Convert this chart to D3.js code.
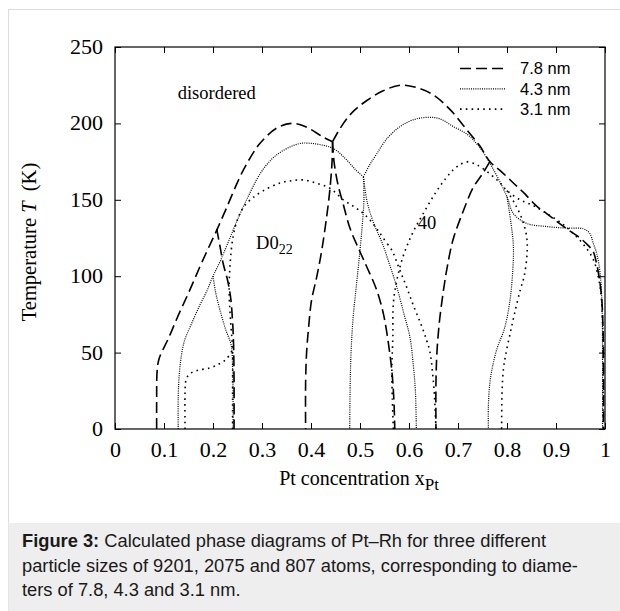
<!DOCTYPE html>
<html>
<head>
<meta charset="utf-8">
<script src="https://cdn.jsdelivr.net/npm/d3@7"></script>
<style>
  html, body { margin: 0; padding: 0; background: #fff; }
  svg { display: block; }
</style>
</head>
<body>
<svg id="chart" width="620" height="611"></svg>
<script>
// ---- Phase boundaries: [x_Pt, T (K)] ----
// 7.8 nm particle (9201 atoms)
const d78_leftD022   = [[0.085,0],[0.085,20],[0.086,38],[0.09,46],[0.11,60],[0.13,75],[0.15,89],[0.173,106],[0.19,118],[0.2075,130],[0.228,145],[0.255,165],[0.275,177],[0.296,187],[0.33,197],[0.36,200],[0.38,199],[0.40,196],[0.425,191],[0.444,188]];
const d78_lowD022    = [[0.2075,131],[0.214,120],[0.221,108],[0.23,97],[0.236,86],[0.24,70],[0.242,55],[0.243,30],[0.243,0]];
const d78_rightD022  = [[0.444,188],[0.447,175],[0.455,160],[0.465,148],[0.48,131],[0.5,116],[0.514,106],[0.534,91],[0.548,75],[0.558,56],[0.565,38],[0.569,20],[0.571,0]];
const d78_left40     = [[0.444,188],[0.443,175],[0.438,155],[0.432,139],[0.422,117],[0.412,100],[0.401,84],[0.395,66],[0.391,50],[0.389,30],[0.389,0]];
const d78_top40      = [[0.444,188],[0.458,196],[0.473,203],[0.49,209],[0.514,215],[0.545,221],[0.582,225],[0.615,223.5],[0.65,218.6],[0.684,209],[0.715,197],[0.745,185],[0.765,175],[0.79,168],[0.813,161],[0.833,155],[0.86,146],[0.881,141],[0.901,136],[0.922,131],[0.945,126],[0.963,121],[0.976,116],[0.983,108],[0.99,95],[0.994,82],[0.996,65],[0.997,40],[0.997,0]];
const d78_right40    = [[0.765,175],[0.75,167],[0.731,158],[0.71,142],[0.69,124],[0.678,106],[0.67,90],[0.662,70],[0.657,50],[0.655,30],[0.655,0]];

// 4.3 nm particle (2075 atoms)
const d43_leftD022   = [[0.129,0],[0.129,20],[0.131,35],[0.135,47],[0.142,58],[0.155,68],[0.173,81],[0.187,90],[0.2,100],[0.215,110],[0.232,123],[0.25,137],[0.27,151],[0.296,167],[0.318,176],[0.337,181],[0.36,185],[0.38,187],[0.398,187],[0.42,186],[0.446,183.5],[0.47,177],[0.49,170],[0.507,165]];
const d43_lowD022    = [[0.2,100],[0.205,90],[0.214,78],[0.226,65],[0.237,55],[0.24,40],[0.241,20],[0.241,0]];
const d43_rightD022  = [[0.507,165],[0.515,148],[0.53,133],[0.545,122],[0.56,108],[0.575,93],[0.59,75],[0.602,60],[0.609,41],[0.613,25],[0.615,0]];
const d43_left40     = [[0.507,165],[0.508,150],[0.505,135],[0.5,117],[0.493,95],[0.486,73],[0.482,52],[0.48,30],[0.479,0]];
const d43_top40      = [[0.507,165],[0.52,173],[0.534,180],[0.555,190],[0.582,198],[0.61,202.5],[0.64,204],[0.663,203],[0.69,198],[0.718,193],[0.745,184],[0.772,170],[0.8,152],[0.813,141],[0.84,134.6],[0.881,132.5],[0.92,131.5],[0.956,131],[0.969,128],[0.976,121.5],[0.983,115],[0.99,102],[0.994,80],[0.995,50],[0.995,0]];
const d43_right40    = [[0.8,152],[0.808,135],[0.813,120],[0.812,105],[0.806,84],[0.795,66],[0.779,52],[0.77,40],[0.765,30],[0.762,15],[0.762,0]];

// 3.1 nm particle (807 atoms)
const d31_leftD022   = [[0.143,0],[0.143,25],[0.145,32],[0.152,36],[0.17,38.5],[0.194,40],[0.212,42.5],[0.228,46],[0.24,52]];
const d31_domeD022   = [[0.24,0],[0.24,30],[0.24,52],[0.236,70],[0.233,90],[0.235,108],[0.241,126],[0.25,137],[0.262,145],[0.28,151],[0.303,156],[0.337,161],[0.36,162.5],[0.384,163],[0.41,161],[0.439,157.5],[0.466,150],[0.49,145],[0.507,141],[0.525,135],[0.541,128],[0.556,121]];
const d31_rightD022  = [[0.556,121],[0.565,117],[0.58,105],[0.595,93],[0.61,80],[0.625,68],[0.636,58],[0.643,50],[0.65,30],[0.653,15],[0.655,0]];
const d31_dome40     = [[0.568,0],[0.566,20],[0.565,39],[0.567,60],[0.568,82],[0.575,97],[0.588,113],[0.607,128],[0.629,141],[0.655,155],[0.675,164],[0.69,169.5],[0.704,173],[0.718,175]];
const d31_rightDis   = [[0.718,175],[0.738,173],[0.765,167],[0.786,161],[0.8,156],[0.827,150],[0.855,146],[0.881,141],[0.91,135],[0.935,128],[0.958,120],[0.976,111],[0.99,93],[0.995,70],[0.996,40],[0.996,0]];
const d31_right40    = [[0.8,156],[0.815,148],[0.83,138],[0.84,126],[0.841,115],[0.835,100],[0.827,91],[0.815,75],[0.806,62],[0.797,48],[0.793,40],[0.79,25],[0.789,0]];

const seriesNames = ["7.8 nm", "4.3 nm", "3.1 nm"];
const seriesCurves = [
  [d78_leftD022, d78_lowD022, d78_rightD022, d78_left40, d78_top40, d78_right40],
  [d43_leftD022, d43_lowD022, d43_rightD022, d43_left40, d43_top40, d43_right40],
  [d31_leftD022, d31_domeD022, d31_rightD022, d31_dome40, d31_rightDis, d31_right40]
];

const xTicks = [0, 0.1, 0.2, 0.3, 0.4, 0.5, 0.6, 0.7, 0.8, 0.9, 1];
const yTicks = [0, 50, 100, 150, 200, 250];
const xTickLabels = ["0", "0.1", "0.2", "0.3", "0.4", "0.5", "0.6", "0.7", "0.8", "0.9", "1"];

const phaseLabels = [
  { text: "disordered", x: 0.128, T: 216 },
  { text: "D0", sub: "22", x: 0.288, T: 118 },
  { text: "40", x: 0.618, T: 131 }
];

const captionLines = [
  [{ b: true, t: "Figure 3:" }, { b: false, t: " Calculated phase diagrams of Pt\u2013Rh for three different" }],
  [{ b: false, t: "particle sizes of 9201, 2075 and 807 atoms, corresponding to diame-" }],
  [{ b: false, t: "ters of 7.8, 4.3 and 3.1 nm." }]
];

// ---- Drawing ----
const svg = d3.select("#chart");
const W = 620, H = 611;
const plot = { left: 115, right: 605, top: 47, bottom: 429 };

const serif = "'Liberation Serif', 'Times New Roman', serif";
const sans = "'Liberation Sans', Arial, Helvetica, sans-serif";

// outer frame and caption panel
svg.append("rect").attr("x", 8.5).attr("y", 9.5).attr("width", W).attr("height", H)
  .attr("fill", "#fff").attr("stroke", "#dcdcdc").attr("stroke-width", 1);
svg.append("rect").attr("x", 8.5).attr("y", 523).attr("width", W).attr("height", H - 523)
  .attr("fill", "#eeeeee");

const x = d3.scaleLinear().domain([0, 1]).range([plot.left, plot.right]);
const y = d3.scaleLinear().domain([0, 250]).range([plot.bottom, plot.top]);

const tickLen = 6;
const g = svg.append("g");

// axes (ticks inward, mirrored on top and right)
const xAxis = d3.axisBottom(x).tickValues(xTicks).tickSizeInner(-tickLen).tickSizeOuter(0)
  .tickFormat((d, i) => xTickLabels[i]).tickPadding(14);
const xAxisTop = d3.axisTop(x).tickValues(xTicks).tickSizeInner(-tickLen).tickSizeOuter(0).tickFormat("");
const yAxis = d3.axisLeft(y).tickValues(yTicks).tickSizeInner(-tickLen).tickSizeOuter(0).tickPadding(11);
const yAxisRight = d3.axisRight(y).tickValues(yTicks).tickSizeInner(-tickLen).tickSizeOuter(0).tickFormat("");

function styleAxis(sel) {
  sel.select(".domain").remove();
  sel.selectAll(".tick line").attr("stroke", "#000").attr("stroke-width", 1);
  sel.selectAll(".tick text").attr("fill", "#000").style("font-family", serif).style("font-size", "20px")
    .attr("transform", "scale(1.1,1)");
}
g.append("g").attr("transform", `translate(0,${plot.bottom})`).call(xAxis).call(styleAxis);
g.append("g").attr("transform", `translate(0,${plot.top})`).call(xAxisTop).call(styleAxis);
g.append("g").attr("transform", `translate(${plot.left},0)`).call(yAxis).call(styleAxis);
g.append("g").attr("transform", `translate(${plot.right},0)`).call(yAxisRight).call(styleAxis);

// plot frame
g.append("rect").attr("x", plot.left).attr("y", plot.top)
  .attr("width", plot.right - plot.left).attr("height", plot.bottom - plot.top)
  .attr("fill", "none").attr("stroke", "#000").attr("stroke-width", 1.2);

// line styles per particle size
const styles = [
  { dash: "11,5", width: 1.6 },
  { dash: "1,1.2", width: 1.2 },
  { dash: "1.6,4.2", width: 1.6 }
];

const line = d3.line()
  .x(d => x(d[0]))
  .y(d => y(d[1]))
  .curve(d3.curveCatmullRom.alpha(0.5));

const curvesG = g.append("g");
seriesCurves.forEach((curves, si) => {
  const s = styles[si];
  curvesG.append("g").selectAll("path").data(curves).join("path")
    .attr("d", line)
    .attr("fill", "none")
    .attr("stroke", "#000")
    .attr("stroke-width", s.width)
    .attr("stroke-dasharray", s.dash);
});

// phase labels
phaseLabels.forEach(p => {
  const t = g.append("text").attr("x", x(p.x)).attr("y", y(p.T))
    .style("font-family", serif).style("font-size", "18.5px").attr("fill", "#000")
    .text(p.text);
  if (p.sub) {
    t.append("tspan").attr("dy", 5).style("font-size", "14px").text(p.sub);
  }
});

// legend
const legend = g.append("g");
seriesNames.forEach((name, i) => {
  const ly = 68.5 + i * 20.3;
  const s = styles[i];
  legend.append("line").attr("x1", 460).attr("x2", 506).attr("y1", ly).attr("y2", ly)
    .attr("stroke", "#000").attr("stroke-width", s.width).attr("stroke-dasharray", s.dash);
  legend.append("text").attr("x", 520).attr("y", ly + 5.8)
    .style("font-family", sans).style("font-size", "16.5px").attr("fill", "#000").text(name);
});

// axis titles
const yt = g.append("text")
  .attr("transform", `translate(36,${(plot.top + plot.bottom) / 2 + 4}) rotate(-90)`)
  .attr("text-anchor", "middle")
  .style("font-family", serif).style("font-size", "20.5px").attr("fill", "#000");
yt.append("tspan").text("Temperature ");
yt.append("tspan").style("font-style", "italic").text("T");
yt.append("tspan").text("\u00a0\u00a0(K)");

const xt = g.append("text")
  .attr("x", (plot.left + plot.right) / 2 - 1).attr("y", 485)
  .attr("text-anchor", "middle")
  .style("font-family", serif).style("font-size", "20px").attr("fill", "#000");
xt.append("tspan").text("Pt concentration x");
xt.append("tspan").attr("dy", 5).style("font-size", "17px").text("Pt");

// caption
captionLines.forEach((parts, i) => {
  const t = svg.append("text").attr("x", 22).attr("y", 547 + i * 24.5)
    .style("font-family", sans).style("font-size", "18.3px").attr("fill", "#1a1a1a");
  parts.forEach(p => t.append("tspan").style("font-weight", p.b ? "bold" : "normal").text(p.t));
});
</script>
</body>
</html>
